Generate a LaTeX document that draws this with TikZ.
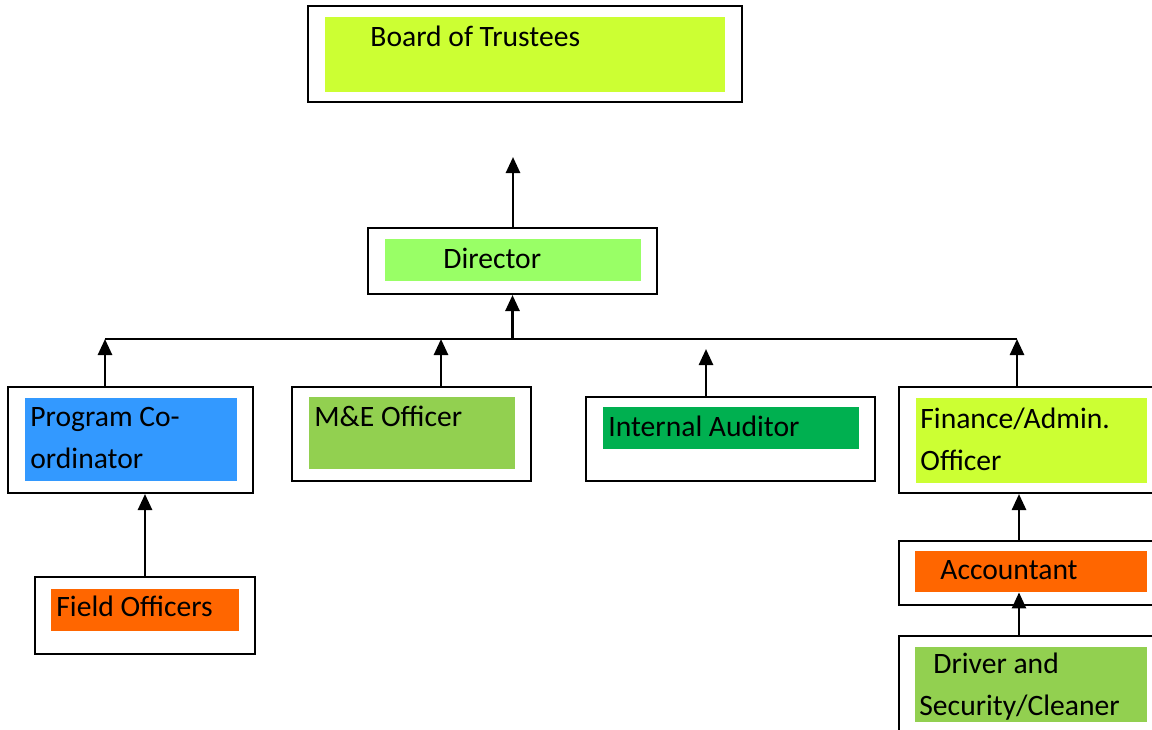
\documentclass[tikz,border=0pt]{standalone}
\usepackage{fontspec}
\setmainfont{Carlito}
\usetikzlibrary{arrows.meta, fit, calc, positioning}
\definecolor{orgLime}{HTML}{CCFF33}
\definecolor{orgMint}{HTML}{99FF66}
\definecolor{orgBlue}{HTML}{3399FF}
\definecolor{orgLeaf}{HTML}{92D050}
\definecolor{orgGreen}{HTML}{00B050}
\definecolor{orgOrange}{HTML}{FF6600}
\tikzset{
  outerbox/.style = {draw=black, line width=1pt, fill=white, inner sep=0pt},
  fillbox/.style  = {inner sep=0pt, draw=none},
  lbl/.style      = {font=\fontsize{14.8}{21}\selectfont, inner sep=0pt,
                     align=left, anchor=base west},
  link/.style     = {-{Triangle[length=8pt, width=7pt]}, line width=1.3pt},
  busline/.style  = {line width=1pt},
}

\begin{document}
\begin{tikzpicture}[x=0.5pt,y=-0.5pt]
  \useasboundingbox (0,0) rectangle (1152,729);
  % top level
  \node[outerbox, fit={(308,6) (742,102)}] (board) {};
  \node[fillbox, fill=orgLime, fit={(325,17) (725,92)}] (boardfill) {};
  \node[lbl] (boardtxt) at (370,46) {Board of Trustees};

  \node[outerbox, fit={(368,228) (657,294)}] (director) {};
  \node[fillbox, fill=orgMint, fit={(385,239) (641,281)}] (directorfill) {};
  \node[lbl] (directortxt) at (443,268) {Director};

  % second level
  \node[outerbox, fit={(8,387) (253,493)}] (prog) {};
  \node[fillbox, fill=orgBlue, fit={(25,398) (237,481)}] (progfill) {};
  \node[lbl] (progtxt) at (30,468) {Program Co-\\ordinator};

  \node[outerbox, fit={(292,387) (531,481)}] (mande) {};
  \node[fillbox, fill=orgLeaf, fit={(309,397) (515,469)}] (mandefill) {};
  \node[lbl] (mandetxt) at (314,426) {M\&E Officer};

  \node[outerbox, fit={(586,397) (875,481)}] (auditor) {};
  \node[fillbox, fill=orgGreen, fit={(603,407) (859,449)}] (auditorfill) {};
  \node[lbl] (auditortxt) at (608,436) {Internal Auditor};

  \node[outerbox, fit={(899,387) (1158,493)}] (finance) {};
  \node[fillbox, fill=orgLime, fit={(916,398) (1147,483)}] (financefill) {};
  \node[lbl] (financetxt) at (920,470) {Finance/Admin.\\Officer};

  % third level
  \node[outerbox, fit={(35,577) (255,654)}] (field) {};
  \node[fillbox, fill=orgOrange, fit={(51,589) (239,631)}] (fieldfill) {};
  \node[lbl] (fieldtxt) at (56,616) {Field Officers};

  \node[outerbox, fit={(899,541) (1158,605)}] (acct) {};
  \node[fillbox, fill=orgOrange, fit={(915,551) (1147,592)}] (acctfill) {};
  \node[lbl] (accttxt) at (940,579) {Accountant};

  \node[outerbox, fit={(899,636) (1158,740)}] (driver) {};
  \node[fillbox, fill=orgLeaf, fit={(915,647) (1147,722)}] (driverfill) {};
  \node[lbl] (drivertxt) at (919,715) {\hspace*{7pt}Driver and\\Security/Cleaner};

  % connectors
  \coordinate (boardtip) at (513,157);
  \coordinate (busL) at (105,339);
  \coordinate (busR) at (1017,339);
  \coordinate (mandex) at (441,339);
  \coordinate (auditortip) at (706,349);
  \coordinate (finx) at (1019,0);

  \draw[link] (director.north -| boardtip) -- (boardtip);
  \draw[busline] (busL) -- (busR);
  \draw[link] (director.south |- busL) -- (director.south);
  \draw[link] (busL |- prog.north) -- (busL);
  \draw[link] (mandex |- mande.north) -- (mandex);
  \draw[link] (auditortip |- auditor.north) -- (auditortip);
  \draw[link] (busR |- finance.north) -- (busR);
  \draw[link] (field.north) -- (field.north |- prog.south);
  \draw[link] (finx |- acct.north) -- (finx |- finance.south);
  \draw[link] (finx |- driver.north) -- (finx |- acctfill.south);
\end{tikzpicture}
\end{document}
